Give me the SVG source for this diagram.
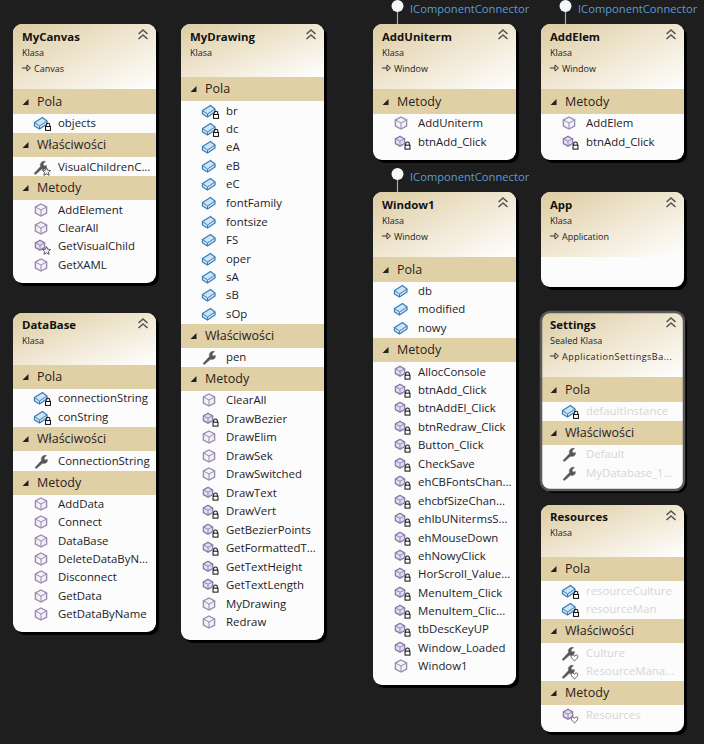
<svg xmlns="http://www.w3.org/2000/svg" width="704" height="744" viewBox="0 0 704 744">
<style>
text{font-family:"Open Sans","Noto Sans","Liberation Sans",sans-serif;fill:#1b1b2a}
.t{font-size:11.4px;font-weight:700;fill:#111}
.s{font-size:9px;fill:#222}
.b{font-size:12.5px;fill:#2a2020}
.r{font-size:11.4px}
.d{fill:#d6d6d6}
.i{font-size:11.2px;fill:#5b9bd5}
.card{fill:#fcfcfc}
.sh{fill:#000}
.band{fill:#e0d0a6}
.lol{stroke:#8fb4d0;stroke-width:1.2}
.head{fill:url(#hg)}
.tri{fill:#222}
.chev{fill:none;stroke:#555;stroke-width:1.6}
.arr{fill:none;stroke:#333;stroke-width:1}
</style>
<defs>
<linearGradient id="hg" x1="0" y1="0" x2="1" y2="1"><stop offset="0" stop-color="#dccca2"/><stop offset="0.45" stop-color="#eee4cd"/><stop offset="1" stop-color="#ffffff"/></linearGradient>
<g id="lock" transform="scale(0.85)"><path d="M2.500 2V0.500a2.200 2.200 0 0 1 4.400 0V2" fill="none" stroke="#111" stroke-width="1.200"/><rect x="1.800" y="2" width="5.800" height="4.600" fill="#fff" stroke="#111" stroke-width="1.200"/></g>
<g id="star"><path d="M4 -0.500L5.200 2.200 8 2.500 6 4.500 6.600 7.300 4 5.900 1.400 7.300 2 4.500 0 2.500 2.800 2.200Z" fill="#eee" stroke="#333" stroke-width="0.800"/></g>
<g id="heart"><path d="M4 6.800C0 4 0 1 2 1 3 1 3.700 1.600 4 2.400 4.300 1.600 5 1 6 1 8 1 8 4 4 6.800Z" fill="#fff" stroke="#444" stroke-width="0.900"/></g>
<g id="cube"><path d="M0 -6L5.600 -3V3L0 6 -5.600 3V-3Z" fill="#f4f0f7" stroke="#9a8cb0" stroke-width="1.400"/><path d="M-5.600 -3L0 0 5.600 -3M0 0V6" fill="none" stroke="#9a8cb0" stroke-width="1"/></g>
<g id="cubeS"><path d="M-1 -5.600L3.600 -3.200V1.600L-1 4.200 -5.600 1.600V-3.200Z" fill="#e6dff0" stroke="#8e7cab" stroke-width="1.400"/><path d="M-5.600 -3.200L-1 -0.800 3.600 -3.200M-1 -0.800V4" fill="none" stroke="#8e7cab" stroke-width="0.900"/></g>
<g id="field"><path d="M-6.500 -0.500L1.500 -5.500 6 -2 6 1 -1.500 6 -6.500 3Z" fill="#cfe3f5" stroke="#3b7fb8" stroke-width="1.300"/><path d="M-6.500 -0.500L-1.500 3 6 -2M-1.500 3V6" fill="none" stroke="#3b7fb8" stroke-width="1"/></g>
<g id="wrench"><path d="M-6 6.500L0.500 -0.500C-0.500 -3.500 2 -6.500 5.500 -5.500L3 -3 4 -1 6.500 -1.500C6.800 1.500 4 3.200 1.500 2.200L-4.500 7.500Z" fill="#555" stroke="#777" stroke-width="0.600"/></g>
<g id="mp"><use href="#cubeS"/><g transform="translate(2.500 1.500)"><use href="#lock"/></g></g>
<g id="fp"><use href="#field"/><g transform="translate(3 1.800)"><use href="#lock"/></g></g>
<g id="ws"><use href="#wrench" x="-1"/><use href="#star" x="1.500" y="1"/></g>
<g id="wh"><use href="#wrench" x="-1"/><use href="#heart" x="1.500" y="1"/></g>
<g id="ms"><use href="#cubeS"/><use href="#star" x="1.500" y="1"/></g>
<g id="mh"><use href="#cubeS"/><use href="#heart" x="1.500" y="1"/></g>
<g id="ch"><path class="chev" d="M-4.500 -1L0 -5 4.500 -1M-4.500 4L0 0 4.500 4"/></g>
<path id="inh" class="arr" d="M0 0H5M5 -3L8.500 0 5 3Z"/>
<path id="tr" class="tri" d="M3.500 -3V3H-2.500Z"/>
</defs>
<rect width="704" height="744" fill="#1e1e1e"/>

<g id="connectors">
<line class="lol" x1="397.500" y1="10" x2="397.500" y2="24"/>
<line class="lol" x1="565.500" y1="10" x2="565.500" y2="24"/>
<line class="lol" x1="397.500" y1="178" x2="397.500" y2="192"/>
<circle cx="397.500" cy="6" r="6" fill="#f5f8fb"/>
<circle cx="565.500" cy="6" r="6" fill="#f5f8fb"/>
<circle cx="397.500" cy="174" r="6" fill="#f5f8fb"/>
<text class="i" x="410" y="13">IComponentConnector</text>
<text class="i" x="578" y="13">IComponentConnector</text>
<text class="i" x="410" y="181">IComponentConnector</text>
</g>

<g id="MyCanvas">
<rect class="sh" x="16" y="27" width="143" height="259" rx="9"/>
<rect class="card" x="13" y="24" width="143" height="259" rx="9"/>
<path class="head" d="M13 89V33a9 9 0 0 1 9-9H147a9 9 0 0 1 9 9V89Z"/>
<use href="#ch" x="143" y="35"/>
<text class="t" x="22" y="41">MyCanvas</text><text class="s" x="22" y="56">Klasa</text><use href="#inh" x="22" y="68"/><text class="s" x="34" y="72">Canvas</text>
<rect class="band" x="13" y="89" width="143" height="25"/><use href="#tr" x="25" y="102"/><text class="b" x="37" y="106">Pola</text>
<use href="#fp" x="41" y="123"/><text class="r" x="58" y="127">objects</text>
<rect class="band" x="13" y="133" width="143" height="24"/><use href="#tr" x="25" y="145"/><text class="b" x="37" y="149">Właściwości</text>
<use href="#ws" x="41" y="167"/><text class="r" x="58" y="171">VisualChildrenC...</text>
<rect class="band" x="13" y="176" width="143" height="24"/><use href="#tr" x="25" y="188"/><text class="b" x="37" y="192">Metody</text>
<use href="#cube" x="41" y="210"/><text class="r" x="58" y="214">AddElement</text>
<use href="#cube" x="41" y="228"/><text class="r" x="58" y="232">ClearAll</text>
<use href="#ms" x="41" y="246"/><text class="r" x="58" y="250">GetVisualChild</text>
<use href="#cube" x="41" y="265"/><text class="r" x="58" y="269">GetXAML</text>
</g>

<g id="DataBase">
<rect class="sh" x="16" y="316" width="143" height="319" rx="9"/>
<rect class="card" x="13" y="313" width="143" height="319" rx="9"/>
<path class="head" d="M13 365V322a9 9 0 0 1 9-9H147a9 9 0 0 1 9 9V365Z"/>
<use href="#ch" x="143" y="324"/>
<text class="t" x="22" y="329">DataBase</text><text class="s" x="22" y="344">Klasa</text>
<rect class="band" x="13" y="365" width="143" height="24"/><use href="#tr" x="25" y="377"/><text class="b" x="37" y="381">Pola</text>
<use href="#fp" x="41" y="398"/><text class="r" x="58" y="402">connectionString</text>
<use href="#fp" x="41" y="417"/><text class="r" x="58" y="421">conString</text>
<rect class="band" x="13" y="427" width="143" height="24"/><use href="#tr" x="25" y="439"/><text class="b" x="37" y="443">Właściwości</text>
<use href="#wrench" x="41" y="461"/><text class="r" x="58" y="465">ConnectionString</text>
<rect class="band" x="13" y="471" width="143" height="24"/><use href="#tr" x="25" y="483"/><text class="b" x="37" y="487">Metody</text>
<use href="#cube" x="41" y="504"/><text class="r" x="58" y="508">AddData</text>
<use href="#cube" x="41" y="522"/><text class="r" x="58" y="526">Connect</text>
<use href="#cube" x="41" y="541"/><text class="r" x="58" y="545">DataBase</text>
<use href="#cube" x="41" y="559"/><text class="r" x="58" y="563">DeleteDataByN...</text>
<use href="#cube" x="41" y="577"/><text class="r" x="58" y="581">Disconnect</text>
<use href="#cube" x="41" y="596"/><text class="r" x="58" y="600">GetData</text>
<use href="#cube" x="41" y="614"/><text class="r" x="58" y="618">GetDataByName</text>
</g>

<g id="MyDrawing">
<rect class="sh" x="184" y="27" width="143" height="616" rx="9"/>
<rect class="card" x="181" y="24" width="143" height="616" rx="9"/>
<path class="head" d="M181 77V33a9 9 0 0 1 9-9H315a9 9 0 0 1 9 9V77Z"/>
<use href="#ch" x="311" y="35"/>
<text class="t" x="190" y="41">MyDrawing</text><text class="s" x="190" y="56">Klasa</text>
<rect class="band" x="181" y="77" width="143" height="24"/><use href="#tr" x="193" y="89"/><text class="b" x="205" y="93">Pola</text>
<use href="#fp" x="209" y="111"/><text class="r" x="226" y="115">br</text>
<use href="#fp" x="209" y="129"/><text class="r" x="226" y="133">dc</text>
<use href="#field" x="209" y="147"/><text class="r" x="226" y="151">eA</text>
<use href="#field" x="209" y="166"/><text class="r" x="226" y="170">eB</text>
<use href="#field" x="209" y="184"/><text class="r" x="226" y="188">eC</text>
<use href="#field" x="209" y="203"/><text class="r" x="226" y="207">fontFamily</text>
<use href="#field" x="209" y="222"/><text class="r" x="226" y="226">fontsize</text>
<use href="#field" x="209" y="240"/><text class="r" x="226" y="244">FS</text>
<use href="#field" x="209" y="259"/><text class="r" x="226" y="263">oper</text>
<use href="#field" x="209" y="277"/><text class="r" x="226" y="281">sA</text>
<use href="#field" x="209" y="295"/><text class="r" x="226" y="299">sB</text>
<use href="#field" x="209" y="314"/><text class="r" x="226" y="318">sOp</text>
<rect class="band" x="181" y="324" width="143" height="24"/><use href="#tr" x="193" y="336"/><text class="b" x="205" y="340">Właściwości</text>
<use href="#wrench" x="209" y="357"/><text class="r" x="226" y="361">pen</text>
<rect class="band" x="181" y="367" width="143" height="24"/><use href="#tr" x="193" y="379"/><text class="b" x="205" y="383">Metody</text>
<use href="#cube" x="209" y="400"/><text class="r" x="226" y="404">ClearAll</text>
<use href="#mp" x="209" y="419"/><text class="r" x="226" y="423">DrawBezier</text>
<use href="#cube" x="209" y="437"/><text class="r" x="226" y="441">DrawElim</text>
<use href="#cube" x="209" y="456"/><text class="r" x="226" y="460">DrawSek</text>
<use href="#cube" x="209" y="474"/><text class="r" x="226" y="478">DrawSwitched</text>
<use href="#mp" x="209" y="493"/><text class="r" x="226" y="497">DrawText</text>
<use href="#mp" x="209" y="511"/><text class="r" x="226" y="515">DrawVert</text>
<use href="#mp" x="209" y="530"/><text class="r" x="226" y="534">GetBezierPoints</text>
<use href="#mp" x="209" y="548"/><text class="r" x="226" y="552">GetFormattedT...</text>
<use href="#mp" x="209" y="567"/><text class="r" x="226" y="571">GetTextHeight</text>
<use href="#mp" x="209" y="585"/><text class="r" x="226" y="589">GetTextLength</text>
<use href="#cube" x="209" y="604"/><text class="r" x="226" y="608">MyDrawing</text>
<use href="#cube" x="209" y="622"/><text class="r" x="226" y="626">Redraw</text>
</g>

<g id="AddUniterm">
<rect class="sh" x="376" y="27" width="143" height="136" rx="9"/>
<rect class="card" x="373" y="24" width="143" height="136" rx="9"/>
<path class="head" d="M373 89V33a9 9 0 0 1 9-9H507a9 9 0 0 1 9 9V89Z"/>
<use href="#ch" x="503" y="35"/>
<text class="t" x="382" y="41">AddUniterm</text><text class="s" x="382" y="56">Klasa</text><use href="#inh" x="382" y="68"/><text class="s" x="394" y="72">Window</text>
<rect class="band" x="373" y="89" width="143" height="25"/><use href="#tr" x="385" y="102"/><text class="b" x="397" y="106">Metody</text>
<use href="#cube" x="401" y="123"/><text class="r" x="418" y="127">AddUniterm</text>
<use href="#mp" x="401" y="142"/><text class="r" x="418" y="146">btnAdd_Click</text>
</g>

<g id="AddElem">
<rect class="sh" x="544" y="27" width="143" height="136" rx="9"/>
<rect class="card" x="541" y="24" width="143" height="136" rx="9"/>
<path class="head" d="M541 89V33a9 9 0 0 1 9-9H675a9 9 0 0 1 9 9V89Z"/>
<use href="#ch" x="671" y="35"/>
<text class="t" x="550" y="41">AddElem</text><text class="s" x="550" y="56">Klasa</text><use href="#inh" x="550" y="68"/><text class="s" x="562" y="72">Window</text>
<rect class="band" x="541" y="89" width="143" height="25"/><use href="#tr" x="553" y="102"/><text class="b" x="565" y="106">Metody</text>
<use href="#cube" x="569" y="123"/><text class="r" x="586" y="127">AddElem</text>
<use href="#mp" x="569" y="142"/><text class="r" x="586" y="146">btnAdd_Click</text>
</g>

<g id="Window1">
<rect class="sh" x="376" y="195" width="143" height="493" rx="9"/>
<rect class="card" x="373" y="192" width="143" height="493" rx="9"/>
<path class="head" d="M373 257V201a9 9 0 0 1 9-9H507a9 9 0 0 1 9 9V257Z"/>
<use href="#ch" x="503" y="203"/>
<text class="t" x="382" y="209">Window1</text><text class="s" x="382" y="224">Klasa</text><use href="#inh" x="382" y="236"/><text class="s" x="394" y="240">Window</text>
<rect class="band" x="373" y="257" width="143" height="25"/><use href="#tr" x="385" y="270"/><text class="b" x="397" y="274">Pola</text>
<use href="#field" x="401" y="291"/><text class="r" x="418" y="295">db</text>
<use href="#field" x="401" y="309"/><text class="r" x="418" y="313">modified</text>
<use href="#field" x="401" y="328"/><text class="r" x="418" y="332">nowy</text>
<rect class="band" x="373" y="338" width="143" height="24"/><use href="#tr" x="385" y="350"/><text class="b" x="397" y="354">Metody</text>
<use href="#mp" x="401" y="372"/><text class="r" x="418" y="376">AllocConsole</text>
<use href="#mp" x="401" y="390"/><text class="r" x="418" y="394">btnAdd_Click</text>
<use href="#mp" x="401" y="408"/><text class="r" x="418" y="412">btnAddEl_Click</text>
<use href="#mp" x="401" y="427"/><text class="r" x="418" y="431">btnRedraw_Click</text>
<use href="#mp" x="401" y="445"/><text class="r" x="418" y="449">Button_Click</text>
<use href="#mp" x="401" y="464"/><text class="r" x="418" y="468">CheckSave</text>
<use href="#mp" x="401" y="482"/><text class="r" x="418" y="486">ehCBFontsChan...</text>
<use href="#mp" x="401" y="501"/><text class="r" x="418" y="505">ehcbfSizeChan...</text>
<use href="#mp" x="401" y="519"/><text class="r" x="418" y="523">ehIbUNitermsS...</text>
<use href="#mp" x="401" y="538"/><text class="r" x="418" y="542">ehMouseDown</text>
<use href="#mp" x="401" y="556"/><text class="r" x="418" y="560">ehNowyClick</text>
<use href="#mp" x="401" y="574"/><text class="r" x="418" y="578">HorScroll_Value...</text>
<use href="#mp" x="401" y="593"/><text class="r" x="418" y="597">MenuItem_Click</text>
<use href="#mp" x="401" y="611"/><text class="r" x="418" y="615">MenuItem_Clic...</text>
<use href="#mp" x="401" y="629"/><text class="r" x="418" y="633">tbDescKeyUP</text>
<use href="#mp" x="401" y="648"/><text class="r" x="418" y="652">Window_Loaded</text>
<use href="#cube" x="401" y="666"/><text class="r" x="418" y="670">Window1</text>
</g>

<g id="App">
<rect class="sh" x="544" y="195" width="143" height="95" rx="9"/>
<rect class="card" x="541" y="192" width="143" height="95" rx="9"/>
<path class="head" d="M541 257V201a9 9 0 0 1 9-9H675a9 9 0 0 1 9 9V257Z"/>
<use href="#ch" x="671" y="203"/>
<text class="t" x="550" y="209">App</text><text class="s" x="550" y="224">Klasa</text><use href="#inh" x="550" y="236"/><text class="s" x="562" y="240">Application</text>
</g>

<g id="Settings">
<rect class="sh" x="544" y="315" width="143" height="178" rx="9"/>
<rect class="card" x="541" y="312" width="143" height="178" rx="9"/>
<path class="head" d="M541 377V321a9 9 0 0 1 9-9H675a9 9 0 0 1 9 9V377Z"/>
<use href="#ch" x="671" y="323"/>
<text class="t" x="550" y="329">Settings</text><text class="s" x="550" y="344">Sealed Klasa</text><use href="#inh" x="550" y="356"/><text class="s" x="562" y="360" letter-spacing="0.500">ApplicationSettingsBa...</text>
<rect class="band" x="541" y="377" width="143" height="25"/><use href="#tr" x="553" y="390"/><text class="b" x="565" y="394">Pola</text>
<use href="#fp" x="569" y="411"/><text class="r d" x="586" y="415">defaultInstance</text>
<rect class="band" x="541" y="421" width="143" height="24"/><use href="#tr" x="553" y="433"/><text class="b" x="565" y="437">Właściwości</text>
<use href="#wrench" x="569" y="454"/><text class="r d" x="586" y="458">Default</text>
<use href="#wrench" x="569" y="473"/><text class="r d" x="586" y="477">MyDatabase_1...</text>
<rect x="541" y="312" width="143" height="178" rx="9" fill="none" stroke="#5a5a5a" stroke-width="2.500"/>
</g>

<g id="Resources">
<rect class="sh" x="544" y="508" width="143" height="227" rx="9"/>
<rect class="card" x="541" y="505" width="143" height="227" rx="9"/>
<path class="head" d="M541 557V514a9 9 0 0 1 9-9H675a9 9 0 0 1 9 9V557Z"/>
<use href="#ch" x="671" y="516"/>
<text class="t" x="550" y="521">Resources</text><text class="s" x="550" y="536">Klasa</text>
<rect class="band" x="541" y="557" width="143" height="24"/><use href="#tr" x="553" y="569"/><text class="b" x="565" y="573">Pola</text>
<use href="#fp" x="569" y="591"/><text class="r d" x="586" y="595">resourceCulture</text>
<use href="#fp" x="569" y="609"/><text class="r d" x="586" y="613">resourceMan</text>
<rect class="band" x="541" y="619" width="143" height="24"/><use href="#tr" x="553" y="631"/><text class="b" x="565" y="635">Właściwości</text>
<use href="#wh" x="569" y="653"/><text class="r d" x="586" y="657">Culture</text>
<use href="#wh" x="569" y="671"/><text class="r d" x="586" y="675">ResourceMana...</text>
<rect class="band" x="541" y="681" width="143" height="24"/><use href="#tr" x="553" y="693"/><text class="b" x="565" y="697">Metody</text>
<use href="#mh" x="569" y="715"/><text class="r d" x="586" y="719">Resources</text>
</g>
</svg>
